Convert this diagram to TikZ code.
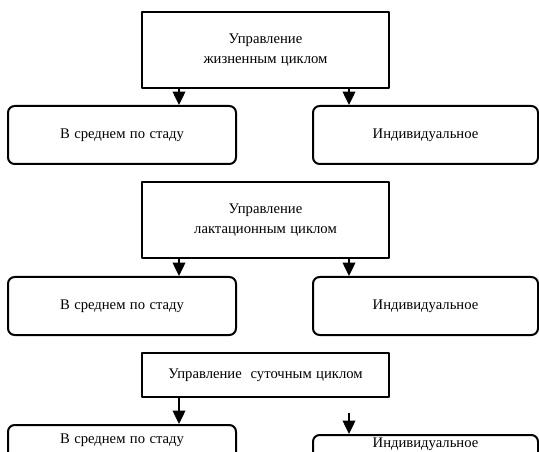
\documentclass[tikz,border=0pt]{standalone}
\usepackage{fontspec}
\setmainfont{Liberation Serif}[WordSpace={1.2}]
\usetikzlibrary{arrows.meta}
\def\px{0.75pt}
\tikzset{
  levelbox/.style={draw, line width=1.5pt, align=center, inner sep=0pt},
  waybox/.style={draw, line width=1.5pt, rounded corners=5pt, inner sep=0pt},
  arr/.style={->, line width=1pt}
}
\begin{document}
\begin{tikzpicture}[x=0.75pt, y=-0.75pt, font=\fontsize{11}{15}\selectfont, line join=round, line cap=butt, >={Triangle[width=9.5pt,length=10pt]}]
	\useasboundingbox (0,0) rectangle (539,452);
	\clip (0,0) rectangle (539,452);
	\coordinate (xl) at (179,0); \coordinate (xr) at (349,0); % arrows x
	% life cycle
	\node[levelbox, minimum width=247*\px, minimum height=76*\px] (life) at (265.5,50) {Управление\\жизненным циклом};
	\node[waybox, minimum width=228*\px, minimum height=58*\px] (herdA) at (122,135) {В среднем по стаду};
	\node[waybox, minimum width=225*\px, minimum height=58*\px] (indA) at (425.5,135) {Индивидуальное};
	\draw[arr] (life.south -| xl) -- (xl |- herdA.north);
	\draw[arr] (life.south -| xr) -- (xr |- indA.north);
	% lactation cycle
	\node[levelbox, minimum width=247*\px, minimum height=76*\px] (lact) at (265.5,220) {Управление\\лактационным циклом};
	\node[waybox, minimum width=228*\px, minimum height=58*\px] (herdB) at (122,306) {В среднем по стаду};
	\node[waybox, minimum width=225*\px, minimum height=58*\px] (indB) at (425.5,306) {Индивидуальное};
	\draw[arr] (lact.south -| xl) -- (xl |- herdB.north);
	\draw[arr] (lact.south -| xr) -- (xr |- indB.north);
	% daily cycle
	\node[levelbox, minimum width=247*\px, minimum height=44*\px] (day) at (265.5,375) {Управление\ \ суточным циклом};
	\node[waybox, minimum width=228*\px, text height=13.5pt, text depth=30pt, anchor=north] (herdC) at (122,424) {В среднем по стаду};
	\node[waybox, minimum width=225*\px, text height=9pt, text depth=30pt, anchor=north] (indC) at (425.5,434) {Индивидуальное};
	\draw[arr] (day.south -| xl) -- (xl |- herdC.north);
	\draw[arr] ([yshift=-11pt]day.south -| xr) -- (xr |- indC.north);
\end{tikzpicture}
\end{document}
